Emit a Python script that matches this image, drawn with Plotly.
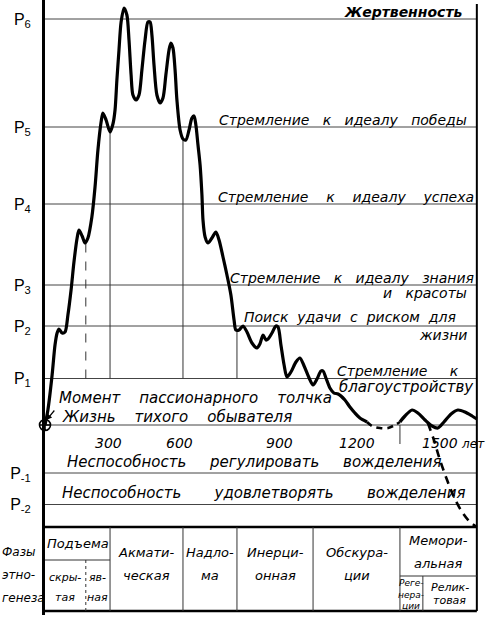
import numpy as np
import plotly.graph_objects as go

# ---------------- DATA ----------------
# Passionarity curve: years from the passionary push vs passionarity (arbitrary units)
years = [0, 11, 27, 38, 46, 53, 65, 76, 87, 99, 110, 122, 129, 141, 152, 163, 178, 190, 201, 213,
         220, 232, 247, 258, 266, 273, 281, 289, 300, 311, 319, 327, 334, 346, 357, 368, 380, 391,
         399, 406, 414, 425, 437, 448, 459, 471, 478, 486, 494, 501, 513, 524, 535, 547, 558, 566,
         573, 581, 589, 596, 600, 608, 619, 634, 649, 661, 676, 691, 706, 718, 725, 737, 752, 767,
         786, 805, 816, 828, 839, 847, 862, 877, 885, 896, 908, 919, 934, 953, 968, 984, 1003, 1018,
         1033, 1048, 1056, 1067, 1082, 1097, 1113, 1139, 1158, 1177, 1196, 1223]
passion = [0, 1.5, 5.0, 8.0, 9.2, 9.6, 9.2, 9.3, 11.0, 13.5, 16.3, 18.7, 19.5, 18.9, 18.2, 18.7, 20.8,
           23.8, 27.5, 30.3, 31.2, 30.5, 29.3, 30.1, 31.5, 34.5, 37.5, 40.3, 41.7, 41.0, 38.5, 35.0,
           33.0, 32.5, 33.0, 35.5, 38.5, 40.3, 40.3, 39.0, 36.0, 33.0, 32.2, 32.7, 35.0, 37.5, 38.2,
           37.7, 35.5, 32.5, 29.5, 28.6, 28.5, 29.5, 30.7, 30.9, 30.0, 28.0, 26.0, 23.0, 20.5, 18.8,
           18.2, 18.7, 19.3, 18.5, 16.8, 15.0, 13.0, 10.5, 9.5, 9.5, 9.9, 9.3, 8.2, 7.7, 8.1, 9.0,
           8.5, 8.6, 9.2, 9.9, 9.8, 8.0, 6.0, 4.8, 5.3, 6.3, 6.7, 5.9, 4.7, 4.0, 4.6, 5.4, 5.4, 4.7,
           3.7, 3.2, 3.1, 2.5, 1.8, 1.2, 0.7, 0.3]
# obscuration trough (dashed)
trough_years = [1223, 1242, 1272, 1303, 1329, 1348]
trough_vals = [0.3, -0.1, -0.3, -0.3, 0.0, 0.3]
# memorial phase oscillation (solid)
memorial_years = [1348, 1367, 1394, 1416, 1443, 1470, 1492, 1515, 1542, 1568, 1595, 1622, 1640]
memorial_vals = [0.3, 0.9, 1.5, 1.2, 0.5, -0.1, -0.3, 0.3, 1.1, 1.5, 1.3, 0.9, 0.6]
# relict decline (dashed)
decline_years = [1454, 1477, 1500, 1527, 1553, 1584, 1614, 1640]
decline_vals = [0.2, -1.5, -3.5, -5.5, -7.2, -8.7, -9.7, -10.2]

# Passionarity levels
level_values = [-7.95, -4.8, 0, 4.65, 9.9, 14.0, 22.1, 29.8, 40.6]
level_ticks = ["P<sub>-2</sub>", "P<sub>-1</sub>", "", "P<sub>1</sub>", "P<sub>2</sub>",
               "P<sub>3</sub>", "P<sub>4</sub>", "P<sub>5</sub>", "P<sub>6</sub>"]

# Year tick labels
year_ticks = [300, 600, 900, 1200, 1500]
year_tick_text = ["300", "600", "900", "1200", "1500 <span style='font-size:12px'>лет</span>"]

# Phases of ethnogenesis (boundaries in years)
phase_bounds = [0, 247, 524, 729, 1018, 1348, 1640]
phase_lines = [["Подъема"], ["Акмати-", "ческая"], ["Надло-", "ма"], ["Инерци-", "онная"],
               ["Обскура-", "ции"], ["Мемори-", "альная"]]
sub_bounds = [155, 1435]
sub_lift = [["скры-", "тая"], ["яв-", "ная"]]
sub_memorial = [["Реге-", "нера-", "ции"], ["Релик-", "товая"]]

X_MAX = 1652
X_FRAME = 1640
Y_MIN, Y_MAX = -19.0, 42.5
Y_FRAME = -18.6
TABLE_TOP = -10.2

FONT = "DejaVu Sans"

fig = go.Figure()

curve_style = dict(color="black", width=3.2, shape="spline", smoothing=0.8)
fig.add_trace(go.Scatter(x=years, y=passion, mode="lines", line=curve_style, hoverinfo="skip"))
fig.add_trace(go.Scatter(x=trough_years, y=trough_vals, mode="lines",
                         line=dict(color="black", width=2.6, dash="6px,5px", shape="spline"), hoverinfo="skip"))
fig.add_trace(go.Scatter(x=memorial_years, y=memorial_vals, mode="lines", line=curve_style, hoverinfo="skip"))
fig.add_trace(go.Scatter(x=decline_years, y=decline_vals, mode="lines",
                         line=dict(color="black", width=2.6, dash="8px,6px", shape="spline"), hoverinfo="skip"))
# origin marker
fig.add_trace(go.Scatter(x=[0], y=[0], mode="markers", cliponaxis=False,
                         marker=dict(symbol="circle-cross-open", size=11, color="black",
                                     line=dict(width=1.6, color="black")), hoverinfo="skip"))

shapes = []
thin = dict(color="#333", width=1)
# level lines (drawn within the frame)
for v in level_values:
    shapes.append(dict(type="line", xref="x", yref="y", x0=0, x1=X_FRAME, y0=v, y1=v,
                       line=dict(color="#444", width=1), layer="below"))
# phase boundary markers inside the chart: from P1 up to the curve
p1 = level_values[3]
for b, dash in [(sub_bounds[0], "dash"), (phase_bounds[1], "solid"), (phase_bounds[2], "solid"),
                (phase_bounds[3], "solid")]:
    top = float(np.interp(b, years, passion))
    shapes.append(dict(type="line", xref="x", yref="y", x0=b, x1=b, y0=p1, y1=top,
                       line=dict(color="#333", width=1, dash=dash), layer="below"))
shapes.append(dict(type="line", xref="x", yref="y", x0=phase_bounds[5], x1=phase_bounds[5],
                   y0=0, y1=-1.9, line=thin))

# frame and table
shapes.append(dict(type="line", xref="x", yref="y", x0=X_FRAME, x1=X_FRAME, y0=Y_FRAME, y1=Y_MAX - 0.4,
                   line=dict(color="black", width=2)))
shapes.append(dict(type="line", xref="x", yref="y", x0=0, x1=X_FRAME, y0=Y_FRAME, y1=Y_FRAME,
                   line=dict(color="black", width=2.5)))
shapes.append(dict(type="line", xref="x", yref="y", x0=0, x1=X_FRAME, y0=TABLE_TOP, y1=TABLE_TOP,
                   line=dict(color="black", width=2.5)))
for b in phase_bounds[1:-1]:
    shapes.append(dict(type="line", xref="x", yref="y", x0=b, x1=b, y0=Y_FRAME, y1=TABLE_TOP, line=thin))
# sub-rows
shapes.append(dict(type="line", xref="x", yref="y", x0=phase_bounds[0], x1=phase_bounds[1],
                   y0=-13.5, y1=-13.5, line=thin))
shapes.append(dict(type="line", xref="x", yref="y", x0=sub_bounds[0], x1=sub_bounds[0],
                   y0=Y_FRAME, y1=-13.5, line=dict(color="#333", width=1, dash="dot")))
shapes.append(dict(type="line", xref="x", yref="y", x0=phase_bounds[5], x1=phase_bounds[6],
                   y0=-15.1, y1=-15.1, line=thin))
shapes.append(dict(type="line", xref="x", yref="y", x0=sub_bounds[1], x1=sub_bounds[1],
                   y0=Y_FRAME, y1=-15.1, line=thin))

anns = []


def T(x, y, s, xa="left", size=14, bold=False, sp=3, xshift=0, xref="x"):
    s2 = s.replace(" ", "&nbsp;" * sp) if "<" not in s else s
    if bold:
        s2 = "<b>" + s2 + "</b>"
    anns.append(dict(x=x, y=y, xref=xref, yref="y", text="<i>" + s2 + "</i>", showarrow=False,
                     xanchor=xa, yanchor="middle", xshift=xshift,
                     font=dict(family=FONT, size=size, color="black")))


# level descriptions
T(1595, 41.3, "Жертвенность", "right", bold=True, sp=1)
T(1610, 30.5, "Стремление к идеалу победы", "right")
T(1636, 22.8, "Стремление к идеалу успеха", "right", sp=4)
T(1636, 14.7, "Стремление к идеалу знания", "right")
T(1610, 13.2, "и красоты", "right")
T(748, 10.8, "Поиск удачи с риском для", "left", sp=2)
T(1610, 9.0, "жизни", "right")
T(1101, 5.4, "Стремление к", "left", sp=5)
T(1636, 3.8, "благоустройству", "right", size=15)
T(46, 2.7, "Момент пассионарного толчка", "left", size=15, sp=4)
T(57, 0.8, "Жизнь тихого обывателя", "left", size=15, sp=4)
T(76, -3.7, "Неспособность регулировать вожделения", "left", size=15, sp=5)
T(57, -6.8, "Неспособность удовлетворять вожделения", "left", size=15, sp=7)

# year labels
shifts = [-16, -23, -2, -4, -20]
for yv, txt, sh in zip(year_ticks, year_tick_text, shifts):
    T(yv, -1.8, txt, "left" if "лет" in txt else "center", size=14, sp=1, xshift=sh)

# phase labels
for i, lines in enumerate(phase_lines):
    cx = (phase_bounds[i] + phase_bounds[i + 1]) / 2
    if i == 0:
        T(cx, -11.8, lines[0], "center", size=13)
    elif i == 5:
        T(cx, -11.5, lines[0], "center", size=13)
        T(cx, -13.8, lines[1], "center", size=13)
    else:
        T(cx, -12.7, lines[0], "center", size=13)
        T(cx, -15.0, lines[1], "center", size=13)
lift_edges = [phase_bounds[0], sub_bounds[0], phase_bounds[1]]
for i, lines in enumerate(sub_lift):
    cx = (lift_edges[i] + lift_edges[i + 1]) / 2
    T(cx, -15.2, lines[0], "center", size=11)
    T(cx, -17.2, lines[1], "center", size=11)
mem_edges = [phase_bounds[5], sub_bounds[1], phase_bounds[6]]
for i, lines in enumerate(sub_memorial):
    cx = (mem_edges[i] + mem_edges[i + 1]) / 2
    if len(lines) == 3:
        for j, l in enumerate(lines):
            T(cx, -15.8 - 1.15 * j, l, "center", size=9)
    else:
        T(cx, -16.2, lines[0], "center", size=11)
        T(cx, -17.5, lines[1], "center", size=11)

# left caption
for j, l in enumerate(["Фазы", "этно-", "генеза"]):
    T(-0.103, -12.7 - 2.3 * j, l, "left", size=12, xref="paper")

# arrow to the origin
anns.append(dict(x=6, y=0.5, xref="x", yref="y", ax=9, ay=-11, showarrow=True, arrowhead=2,
                 arrowsize=0.9, arrowwidth=1.2, arrowcolor="black", text=""))

fig.update_layout(
    width=487, height=622,
    margin=dict(l=45, r=7, t=0, b=7, autoexpand=False),
    paper_bgcolor="white", plot_bgcolor="white",
    showlegend=False,
    shapes=shapes, annotations=anns,
    xaxis=dict(range=[0, X_MAX], showgrid=False, zeroline=False, showline=False,
               showticklabels=False, ticks="", fixedrange=True, automargin=False),
    yaxis=dict(range=[Y_MIN, Y_MAX], tickvals=level_values, ticktext=level_ticks,
               showgrid=False, zeroline=False,
               showline=True, linecolor="black", linewidth=3, ticks="",
               ticklabelstandoff=8, automargin=False,
               tickfont=dict(family="Liberation Sans", size=16, color="black"), fixedrange=True),
)

fig.write_html("out.html", config={"displayModeBar": False},
               post_script="document.body.style.margin='0';document.body.style.overflow='hidden';")
